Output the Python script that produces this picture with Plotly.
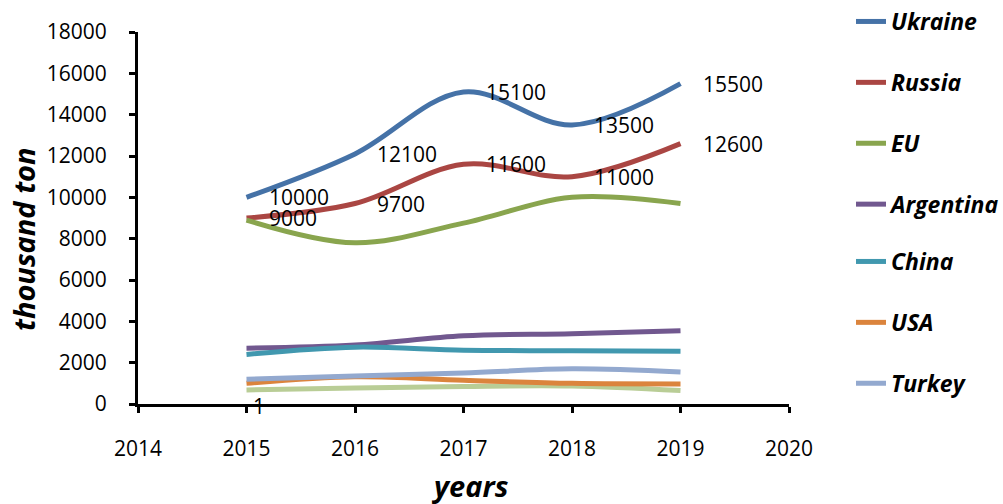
import plotly.graph_objects as go

# Export volumes, thousand ton
years = [2015, 2016, 2017, 2018, 2019]
ukraine = [10000, 12100, 15100, 13500, 15500]
russia = [9000, 9700, 11600, 11000, 12600]
eu = [8900, 7800, 8750, 10000, 9700]
argentina = [2700, 2850, 3300, 3400, 3550]
china = [2400, 2750, 2600, 2580, 2550]
usa = [1000, 1320, 1150, 1000, 970]
turkey = [1200, 1350, 1500, 1700, 1550]
other = [680, 770, 850, 870, 650]
stray_year = [2015]
stray_value = [1]

x_ticks = [2014, 2015, 2016, 2017, 2018, 2019, 2020]
y_ticks = list(range(0, 18001, 2000))

# name, values, colour, legend box
series = [
    ("Ukraine", ukraine, "#4572A7", "legend"),
    ("Russia", russia, "#AA4643", "legend"),
    ("EU", eu, "#89A54E", "legend"),
    ("Argentina", argentina, "#71588F", "legend"),
    ("China", china, "#4198AF", "legend2"),
    ("USA", usa, "#DB843D", "legend2"),
    ("Turkey", turkey, "#93A9CF", "legend2"),
]
labelled = {"Ukraine", "Russia"}

FONT = "Open Sans"
W, H = 1003, 504
L, R, T, B = 138, 214, 32, 100
PW, PH = W - L - R, H - T - B

fig = go.Figure()

# unnamed pale series drawn first (behind the others)
fig.add_trace(go.Scatter(
    x=years, y=other, mode="lines", line=dict(color="#B9CD96", width=5, shape="spline"),
    showlegend=False, hoverinfo="skip"))

for name, vals, color, leg in series:
    fig.add_trace(go.Scatter(
        x=years, y=vals, mode="lines", name=name, legendgroup=name, legend=leg,
        line=dict(color=color, width=5, shape="spline")))

annotations = []
for name, vals, color, leg in series:
    if name in labelled:
        for xv, yv in zip(years, vals):
            annotations.append(dict(
                x=xv, y=yv, xref="x", yref="y", text=str(yv), showarrow=False,
                xanchor="left", yanchor="middle", xshift=20,
                font=dict(family=FONT, size=21, color="black")))
for xv, yv in zip(stray_year, stray_value):
    annotations.append(dict(
        x=xv, y=yv, xref="x", yref="y", text=str(yv), showarrow=False,
        xanchor="left", yanchor="middle", xshift=4, yshift=-2,
        font=dict(family=FONT, size=21, color="black")))

# axis titles
title_font = dict(family=FONT, size=29, color="black", weight="bold", style="italic")
annotations.append(dict(
    text="years", xref="paper", yref="paper", showarrow=False,
    x=(470 - L) / PW, y=-(485 - (T + PH)) / PH, xanchor="center", yanchor="middle",
    font=title_font))
annotations.append(dict(
    text="thousand ton", xref="paper", yref="paper", showarrow=False, textangle=-90,
    x=-(L - 24) / PW, y=(T + PH - 239) / PH, xanchor="center", yanchor="middle",
    font=title_font))

legend_style = dict(
    x=851 / W, xanchor="left", xref="container", yanchor="top", yref="container",
    font=dict(family=FONT, size=23, color="black", weight="bold", style="italic"),
    tracegroupgap=28, bgcolor="rgba(0,0,0,0)", itemwidth=30)

fig.update_layout(
    width=W, height=H,
    margin=dict(l=L, r=R, t=T, b=B, autoexpand=False),
    paper_bgcolor="white", plot_bgcolor="white",
    font=dict(family=FONT, size=21, color="black"),
    annotations=annotations,
    legend=dict(y=1 + 7 / H, **legend_style),
    legend2=dict(y=1 - 240 / H, **legend_style),
    xaxis=dict(
        range=[2014, 2020], tickvals=x_ticks, ticktext=[str(t) for t in x_ticks],
        showgrid=False, zeroline=False, showline=True, linecolor="black", linewidth=3,
        ticks="outside", ticklen=6, tickwidth=3, tickcolor="black",
        ticklabelstandoff=18,
    ),
    yaxis=dict(
        range=[0, 18000], tickvals=y_ticks, ticktext=[str(t) for t in y_ticks],
        showgrid=False, zeroline=False, showline=True, linecolor="black", linewidth=3,
        ticks="outside", ticklen=6, tickwidth=3, tickcolor="black",
        ticklabelstandoff=18,
    ),
)

fig.write_html("out.html")
